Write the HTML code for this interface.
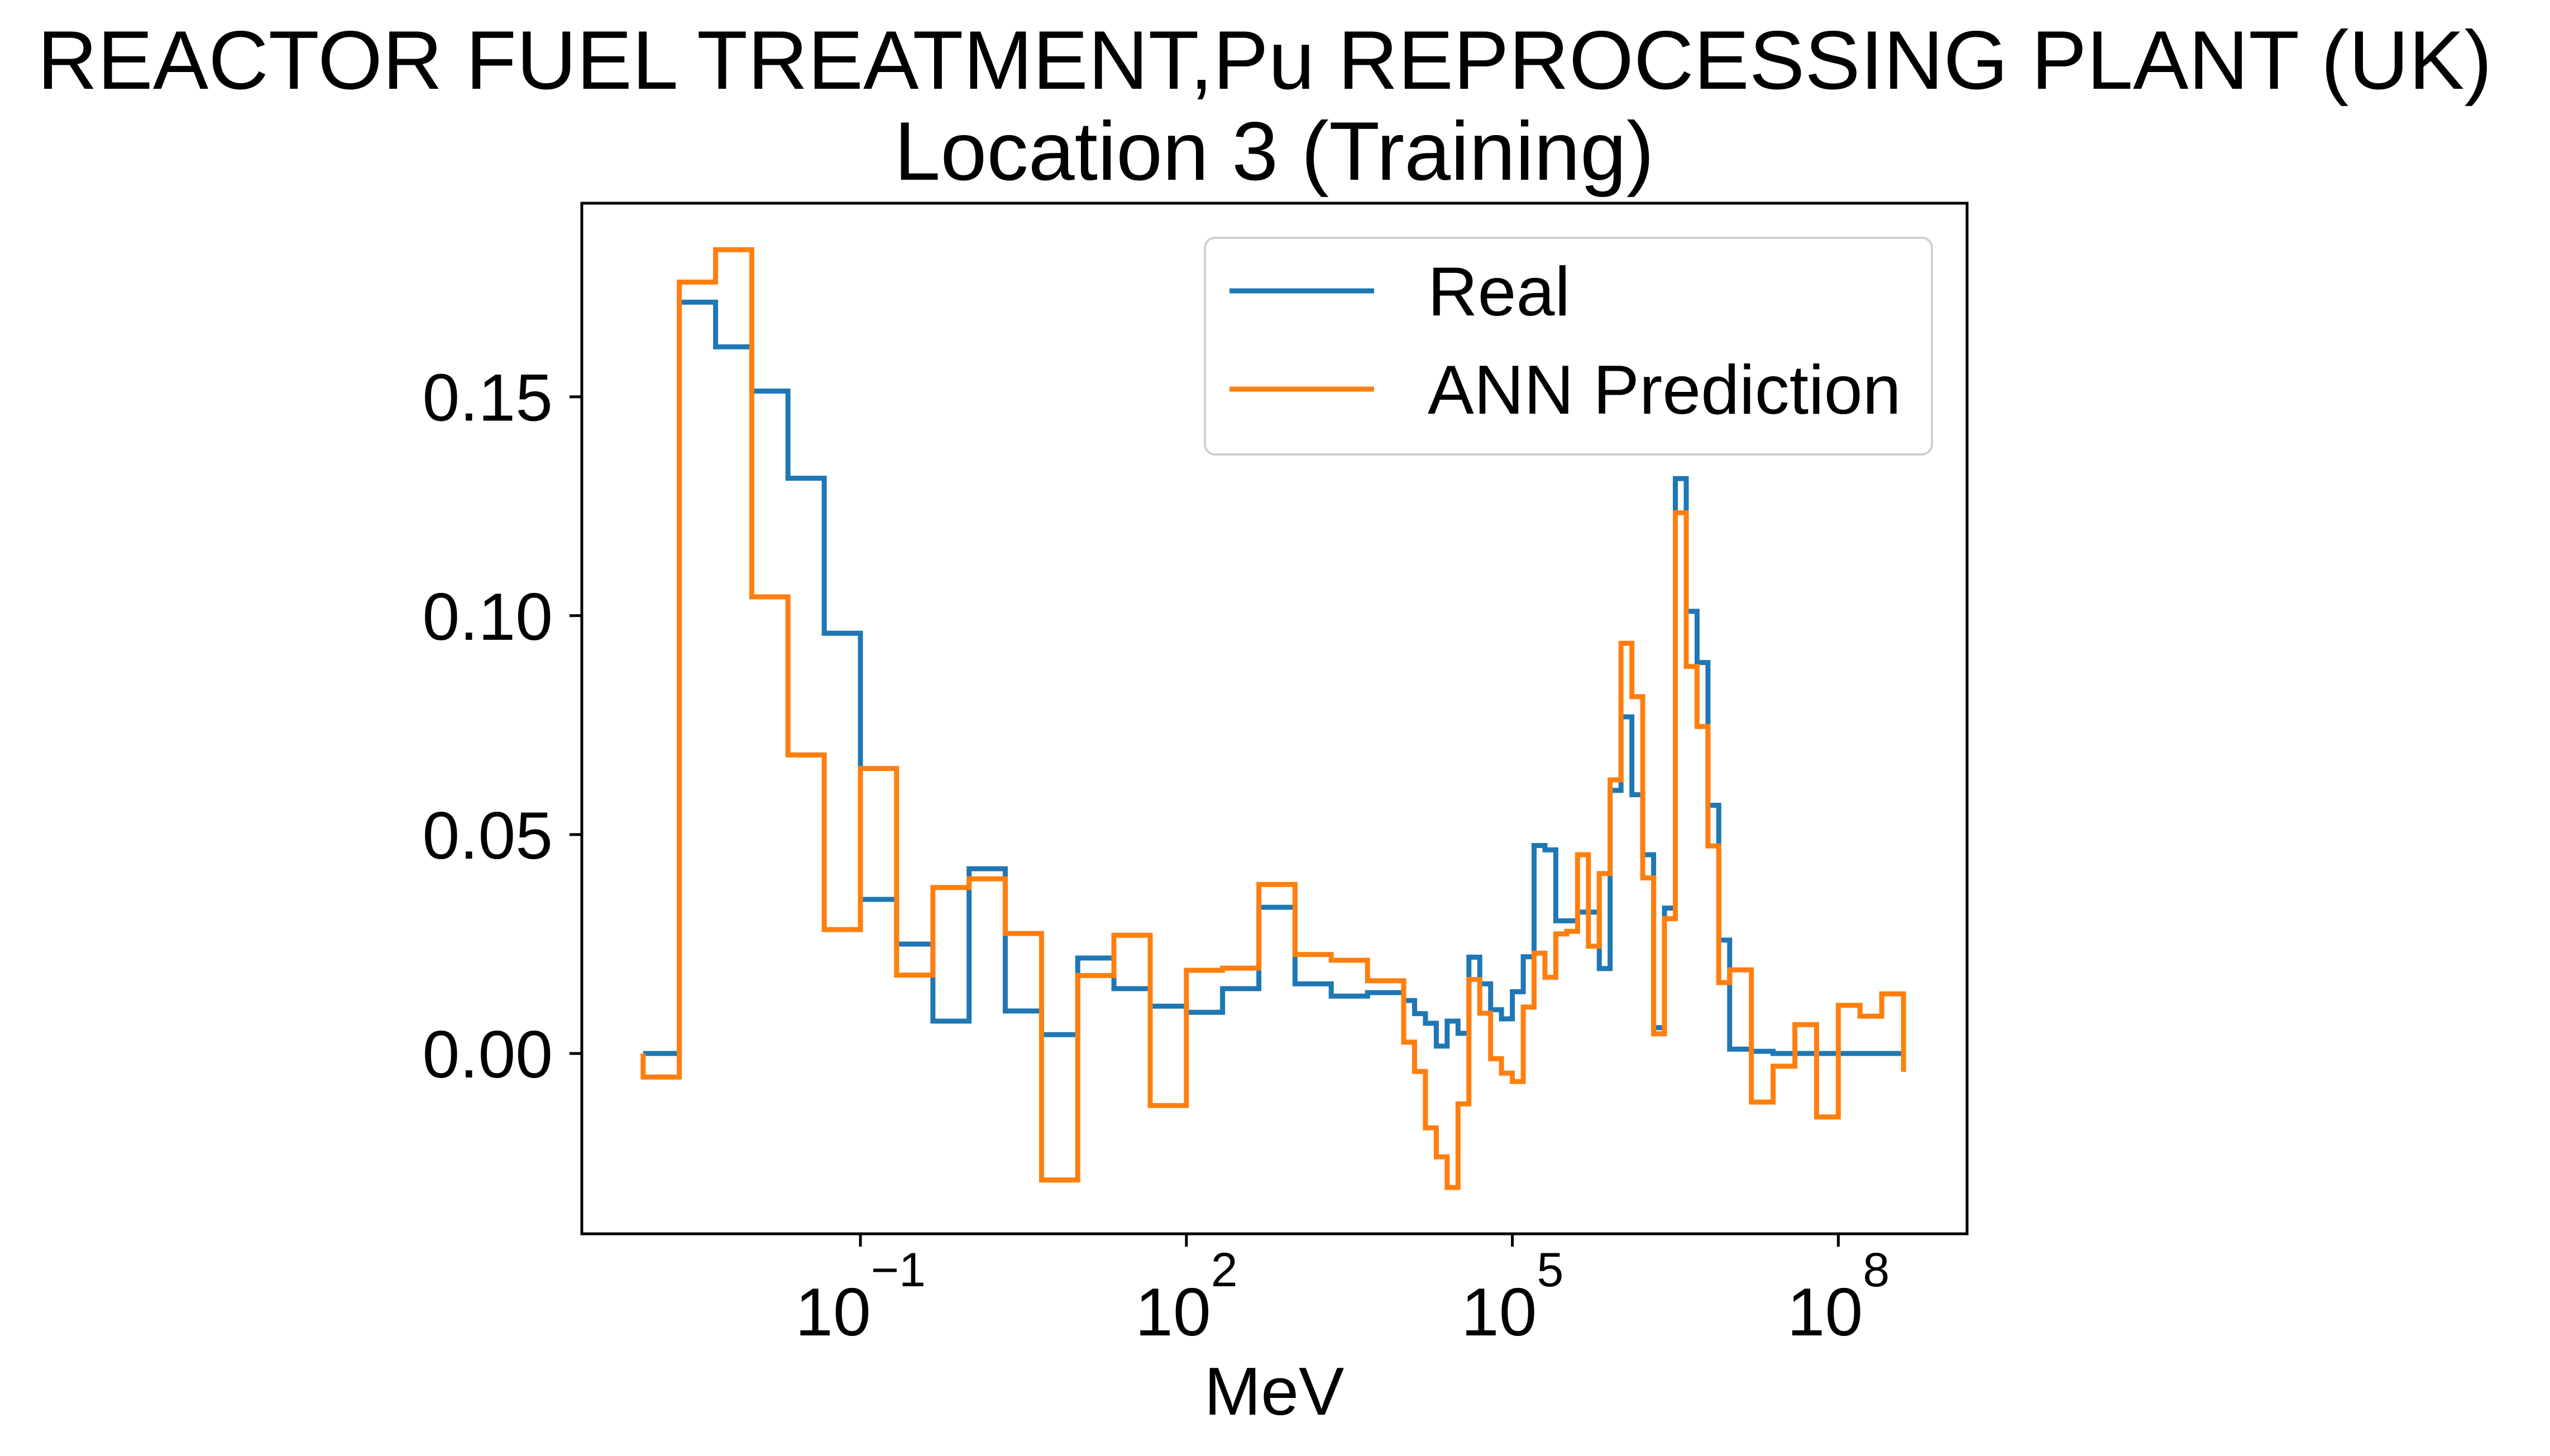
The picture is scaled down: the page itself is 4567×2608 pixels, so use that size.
<!DOCTYPE html>
<html><head><meta charset="utf-8"><style>
html,body{margin:0;padding:0;background:#fff;}
svg{display:block;font-family:"Liberation Sans",Arial,sans-serif;}
</style></head><body>
<svg id="chart" width="4567" height="2608" viewBox="0 0 4567 2608" xmlns="http://www.w3.org/2000/svg">
<rect x="0" y="0" width="4567" height="2608" fill="#fff"/>
<text x="2265" y="159" text-anchor="middle" font-size="149">REACTOR FUEL TREATMENT,Pu REPROCESSING PLANT (UK)</text>
<text x="2282" y="322" text-anchor="middle" font-size="149">Location 3 (Training)</text>
<g id="series"></g>
<rect x="1042" y="364" width="2481" height="1846" fill="none" stroke="#000" stroke-width="5"/>
<g id="axes"></g>
<g>
<rect x="2158" y="426" width="1302" height="388" rx="18" fill="#fff" fill-opacity="0.8" stroke="#d0d0d0" stroke-width="4"/>
<line x1="2202" y1="521" x2="2461" y2="521" stroke="#1f77b4" stroke-width="9"/>
<text x="2557" y="565" font-size="124">Real</text>
<line x1="2202" y1="697" x2="2461" y2="697" stroke="#ff7f0e" stroke-width="9"/>
<text x="2557" y="741" font-size="124">ANN Prediction</text>
</g>
<text x="2282" y="2534" text-anchor="middle" font-size="122">MeV</text>
</svg>
<script>
// bin edges in log10(MeV)
const binEdges = [-3,-2.667,-2.333,-2,-1.667,-1.333,-1,-0.667,-0.333,0,0.333,0.667,1,1.333,1.667,2,2.333,2.667,3,3.333,3.667,4,
4.1,4.2,4.3,4.4,4.5,4.6,4.7,4.8,4.9,5,5.1,5.2,5.3,5.4,5.5,5.6,5.7,5.8,5.9,6,6.1,6.2,6.3,6.4,6.5,6.6,6.7,6.8,6.9,7,
7.2,7.4,7.6,7.8,8,8.2,8.4,8.6];
const realValues = [0.0,0.1716,0.1614,0.1513,0.1314,0.096,0.0352,0.025,0.0074,0.0422,0.0097,0.0043,0.0218,0.0148,0.0108,0.0094,0.0148,0.0334,0.0159,0.0131,0.0139,
0.0121,0.0091,0.0069,0.0017,0.0074,0.0046,0.0220,0.0159,0.0100,0.0079,0.0141,0.0221,0.0475,0.0465,0.0303,0.0303,0.0323,0.0323,0.0194,0.0601,0.0769,0.0591,0.0454,0.0059,0.0332,0.1313,0.1010,0.0893,0.0567,0.0259,
0.001,0.0005,0,0,0,0,0,0];
const annValues = [-0.0054,0.1762,0.1836,0.1043,0.0682,0.0283,0.0651,0.0179,0.0379,0.0399,0.0274,-0.0289,0.0178,0.027,-0.0119,0.019,0.0195,0.0386,0.0226,0.0213,0.0166,
0.0026,-0.0041,-0.0170,-0.0236,-0.0306,-0.0115,0.0169,0.0092,-0.0012,-0.0045,-0.0064,0.0106,0.0229,0.0174,0.0273,0.0279,0.0454,0.0245,0.0411,0.0625,0.0937,0.0815,0.0401,0.0045,0.0308,0.1235,0.0884,0.0747,0.0474,0.0162,
0.0191,-0.0111,-0.0029,0.0066,-0.0145,0.011,0.0085,0.0136];
const realEnds = [0, 0];
const annEnds = [0, -0.0042];
const yTickValues = [0, 0.05, 0.10, 0.15];
const yTickLabels = ["0.00","0.05","0.10","0.15"];
const xTickExps = [-1, 2, 5, 8];
const xTickLabels = ["\u22121","2","5","8"];

const NS = "http://www.w3.org/2000/svg";
function xs(l){ return 1541 + (l + 1) * 194.6; }
function ys(v){ return 1887 - v * 7842; }

function stepPath(edges, vals, ends){
  let d = "M" + xs(edges[0]).toFixed(1) + " " + ys(ends[0]).toFixed(1);
  for (let i = 0; i < vals.length; i++){
    d += " V" + ys(vals[i]).toFixed(1) + " H" + xs(edges[i+1]).toFixed(1);
  }
  d += " V" + ys(ends[1]).toFixed(1);
  return d;
}
const sg = document.getElementById("series");
const p1 = document.createElementNS(NS, "path");
p1.setAttribute("d", stepPath(binEdges, realValues, realEnds));
p1.setAttribute("fill", "none"); p1.setAttribute("stroke", "#1f77b4"); p1.setAttribute("stroke-width", "9");


sg.appendChild(p1);
const p2 = document.createElementNS(NS, "path");
p2.setAttribute("d", stepPath(binEdges, annValues, annEnds));
p2.setAttribute("fill", "none"); p2.setAttribute("stroke", "#ff7f0e"); p2.setAttribute("stroke-width", "9");


sg.appendChild(p2);

const ag = document.getElementById("axes");
yTickValues.forEach((v, i) => {
  const y = ys(v);
  const t = document.createElementNS(NS, "line");
  t.setAttribute("x1", 1020); t.setAttribute("x2", 1042);
  t.setAttribute("y1", y); t.setAttribute("y2", y);
  t.setAttribute("stroke", "#000"); t.setAttribute("stroke-width", "5");
  
  
  ag.appendChild(t);
  const tx = document.createElementNS(NS, "text");
  tx.setAttribute("x", 990); tx.setAttribute("y", y + 43);
  tx.setAttribute("text-anchor", "end"); tx.setAttribute("font-size", "120");
  tx.textContent = yTickLabels[i];
  
  
  ag.appendChild(tx);
});
xTickExps.forEach((e, i) => {
  const x = xs(e);
  const t = document.createElementNS(NS, "line");
  t.setAttribute("x1", x); t.setAttribute("x2", x);
  t.setAttribute("y1", 2210); t.setAttribute("y2", 2233);
  t.setAttribute("stroke", "#000"); t.setAttribute("stroke-width", "5");
  
  
  ag.appendChild(t);
  const tx = document.createElementNS(NS, "text");
  tx.setAttribute("x", x); tx.setAttribute("y", 2392);
  tx.setAttribute("text-anchor", "middle"); tx.setAttribute("font-size", "122");
  tx.appendChild(document.createTextNode("10"));
  const sup = document.createElementNS(NS, "tspan");
  sup.setAttribute("dy", "-88"); sup.setAttribute("font-size", "86");
  sup.textContent = xTickLabels[i];
  tx.appendChild(sup);
  
  
  ag.appendChild(tx);
});
</script>
</body></html>
